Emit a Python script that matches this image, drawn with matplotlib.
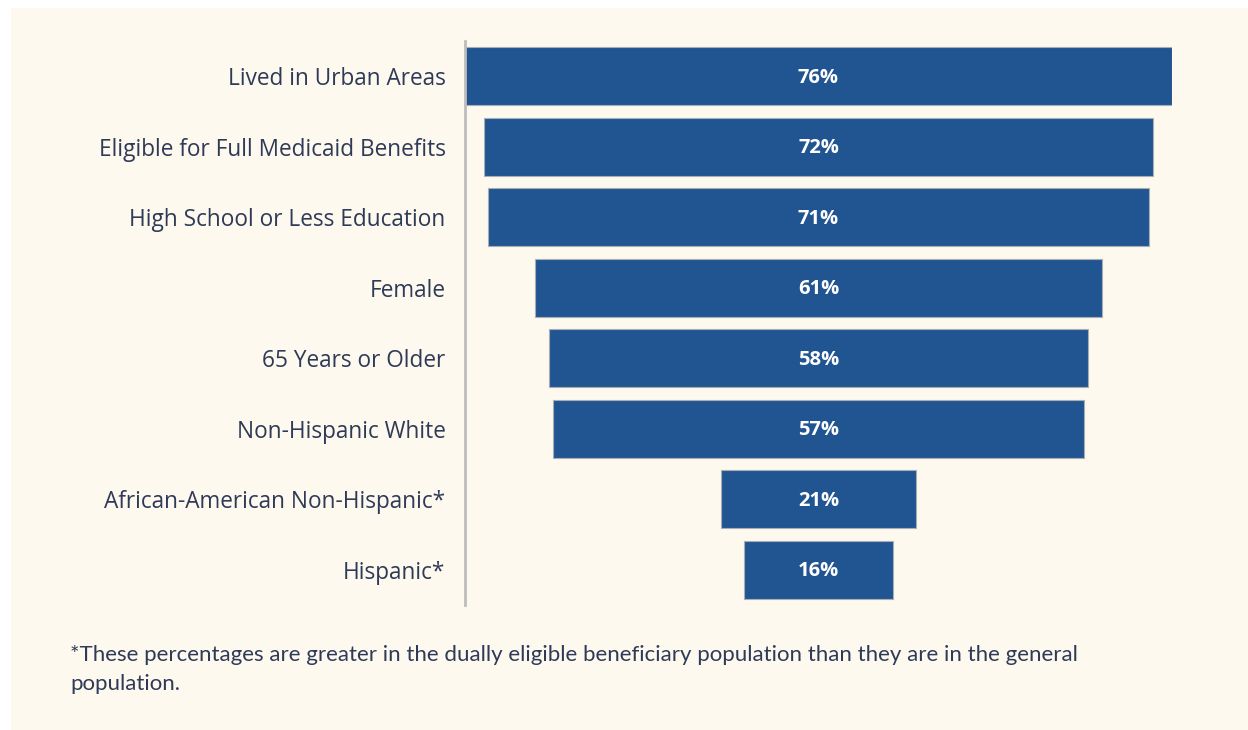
import matplotlib.pyplot as plt
from matplotlib.patches import Rectangle

# data
categories = [
    "Lived in Urban Areas",
    "Eligible for Full Medicaid Benefits",
    "High School or Less Education",
    "Female",
    "65 Years or Older",
    "Non-Hispanic White",
    "African-American Non-Hispanic*",
    "Hispanic*",
]
values = [76, 72, 71, 61, 58, 57, 21, 16]
footnote = ("*These percentages are greater in the dually eligible beneficiary population than they are in the general\n"
            "population.")

bg = "#FEF9EE"
bar_color = "#215592"
text_color = "#2E3A57"

plt.rcParams["font.family"] = ["Lato", "DejaVu Sans"]

fig = plt.figure(figsize=(12.48, 7.30), dpi=100)
fig.patch.set_facecolor("white")
# cream panel
fig.patches.append(Rectangle((11 / 1248, 0), 1 - 11 / 1248, 1 - 8 / 730,
                             transform=fig.transFigure, facecolor=bg, edgecolor="none", zorder=-1))

ax = fig.add_axes([465 / 1248, 1 - 605 / 730, 707 / 1248, 564 / 730])
ax.set_facecolor("none")
ax.set_zorder(2)

y = list(range(len(values)))
lefts = [-v / 2 for v in values]
ax.barh(y, values, left=lefts, height=0.82, color=bar_color, edgecolor="#A8AEB5", linewidth=0.8)

for yi, v in zip(y, values):
    ax.text(0, yi + 0.02, f"{v}%", ha="center", va="center", color="white",
            fontsize=14.5, fontweight="bold", family=["Open Sans", "DejaVu Sans"])

ax.set_xlim(-38, 38)
ax.set_ylim(7.5, -0.5)
ax.set_yticks(y)
ax.set_yticklabels(categories, fontsize=16.3, color=text_color, family=["Open Sans", "DejaVu Sans"])
ax.tick_params(axis="y", length=0, pad=14)
ax.set_xticks([])
for s in ["top", "right", "bottom"]:
    ax.spines[s].set_visible(False)
ax.spines["left"].set_color("#BDBDBD")
ax.spines["left"].set_linewidth(2)

fig.text(70 / 1248, 1 - 645 / 730, footnote, fontsize=16, color=text_color,
         va="top", linespacing=1.55, zorder=3)

fig.savefig("out.png", dpi=100, facecolor=fig.get_facecolor())
